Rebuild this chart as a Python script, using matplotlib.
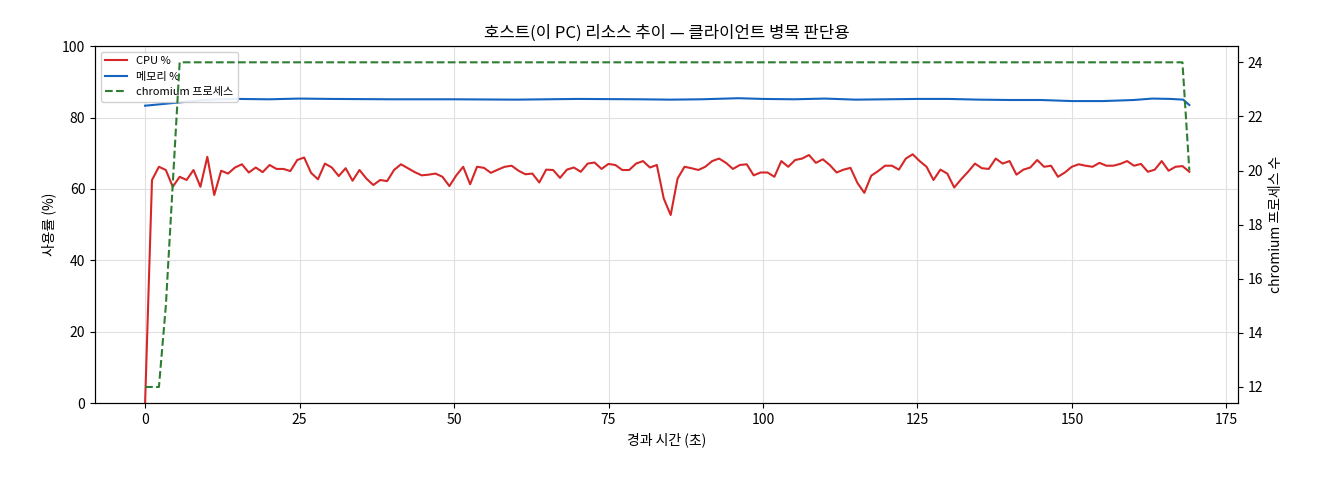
import numpy as np
import matplotlib
matplotlib.use("Agg")
import matplotlib.pyplot as plt

plt.rcParams['font.family'] = ['Noto Sans CJK KR', 'DejaVu Sans']
plt.rcParams['axes.unicode_minus'] = False

cpu = [0.0,
 62.5,66.2,65.3,60.6,63.4,62.5,65.3,60.6,69.0,58.3,65.1,64.3,66.0,66.9,64.6,66.0,64.7,66.7,65.6,65.6,
 65.0,68.1,68.8,64.5,62.7,67.1,66.0,63.6,65.8,62.3,65.3,62.9,61.1,62.5,62.2,65.3,66.9,65.8,64.7,63.8,
 64.0,64.3,63.4,60.8,63.8,66.2,
 61.3,66.2,65.9,64.5,65.4,66.2,66.5,65.1,64.1,64.3,61.8,65.4,65.3,63.1,65.4,66.0,64.8,67.1,67.4,65.6,
 67.0,66.7,65.3,65.3,67.1,67.8,66.0,66.7,57.3,52.7,62.9,66.2,65.8,65.3,66.2,67.8,68.5,67.3,65.6,66.7,
 66.9,63.8,64.6,64.6,63.4,67.8,66.2,68.1,68.5,69.5,67.3,68.3,66.7,64.6,65.4,
 65.9,61.7,58.9,63.7,65.0,66.5,66.5,65.4,68.5,69.7,67.8,66.2,62.5,65.4,64.3,60.4,62.7,64.8,67.1,65.8,
 65.6,68.5,67.1,67.8,64.0,65.4,66.0,68.1,66.2,66.5,63.4,64.6,66.2,66.9,66.5,66.2,67.3,66.5,66.5,67.0,
 67.8,66.5,67.0,64.8,65.4,67.8,65.1,66.2,66.4,64.8]
t = np.linspace(0, 169, len(cpu))

mem_t = [0, 3, 6, 9, 12, 15, 20, 25, 30, 40, 50, 60, 70, 80, 85, 90, 96, 100, 105, 110, 115, 120,
         125, 130, 135, 140, 145, 150, 155, 160, 163, 166, 168, 169]
mem = [83.3, 83.8, 84.3, 84.8, 85.1, 85.2, 85.1, 85.3, 85.2, 85.1, 85.1, 85.0, 85.2, 85.1, 85.0, 85.1,
       85.4, 85.2, 85.1, 85.3, 85.0, 85.1, 85.2, 85.2, 85.0, 84.9, 84.9, 84.6, 84.6, 84.9, 85.3, 85.2, 85.0, 83.5]

chrom_head = [12, 12, 12, 15, 19.5]
chrom_mid = 24
chrom_tail = [20]
chrom = chrom_head + [chrom_mid] * (len(cpu) - len(chrom_head) - len(chrom_tail)) + chrom_tail

fig = plt.figure(figsize=(13.2, 4.8), dpi=100)
ax = fig.add_axes([0.072, 0.16, 0.866, 0.744])
l1, = ax.plot(t, cpu, color='#d62728', lw=1.5, label='CPU %')
l2, = ax.plot(mem_t, mem, color='#1565c0', lw=1.5, label='메모리 %')
ax.set_ylim(0, 100)
ax.set_xlim(-8.1, 176.9)
ax.grid(True, color='#e0e0e0', lw=0.8)
ax.set_xlabel('경과 시간 (초)')
ax.set_ylabel('사용률 (%)')
ax.set_title('호스트(이 PC) 리소스 추이 — 클라이언트 병목 판단용', fontsize=12)

ax2 = ax.twinx()
l3, = ax2.plot(t, chrom, color='#2e7d32', lw=1.5, ls='--', label='chromium 프로세스')
ax2.set_ylim(11.4, 24.6)
ax2.set_ylabel('chromium 프로세스 수')

ax.legend(handles=[l1, l2, l3], loc='upper left', fontsize=8, framealpha=0.9)
fig.savefig('out.png', dpi=100)
